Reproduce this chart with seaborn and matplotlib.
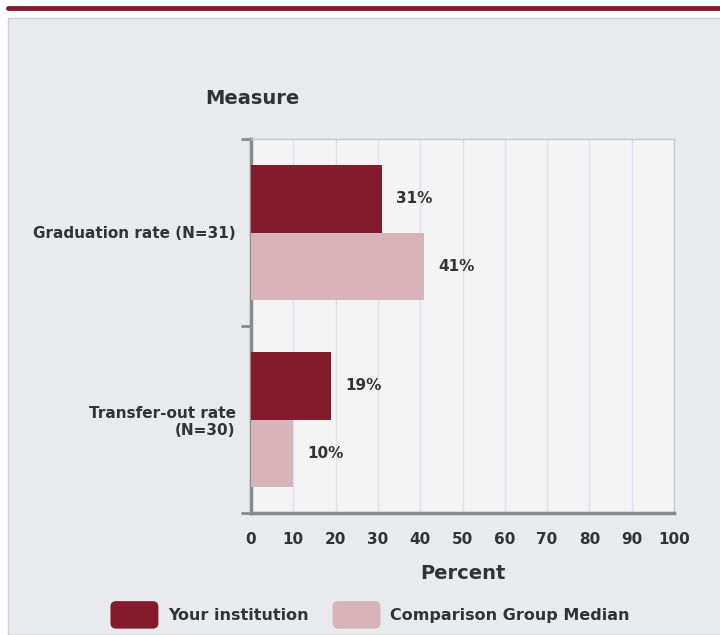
import matplotlib
matplotlib.use("Agg")
import matplotlib.pyplot as plt
import matplotlib.patches as mpatches
from matplotlib.legend_handler import HandlerPatch
import pandas as pd
import seaborn as sns

# values
measures = ["Graduation rate (N=31)", "Transfer-out rate\n(N=30)"]
your_institution = [31, 19]
comparison_median = [41, 10]
series_names = ["Your institution", "Comparison Group Median"]
x_ticks = [0, 10, 20, 30, 40, 50, 60, 70, 80, 90, 100]

maroon = "#841b2d"
pink = "#d8b3b9"
text_col = "#333333"

df = pd.DataFrame({
    "Measure": measures * 2,
    "Percent": your_institution + comparison_median,
    "Series": [series_names[0]] * 2 + [series_names[1]] * 2,
})

sns.set_theme(style="white")
plt.rcParams["font.family"] = ["Liberation Sans Narrow", "DejaVu Sans"]
plt.rcParams["font.weight"] = "bold"


class RoundedHandler(HandlerPatch):
    # legend swatch with rounded corners, like the reference
    def create_artists(self, legend, orig_handle, xdescent, ydescent, width, height, fontsize, trans):
        p = mpatches.FancyBboxPatch((-xdescent, -ydescent - 4), width, height + 8,
                                    boxstyle="round,pad=0,rounding_size=4",
                                    facecolor=orig_handle.get_facecolor(), edgecolor="none",
                                    transform=trans)
        return [p]


fig = plt.figure(figsize=(7.2, 6.35), dpi=100)
fig.patch.set_facecolor("white")

# grey panel and the maroon rule on top
fig.patches.append(mpatches.Rectangle((8 / 720, 0), 1, 1 - 18 / 635, transform=fig.transFigure,
                                      facecolor="#e9eaee", edgecolor="#d0d0d0", lw=1, zorder=-2))
fig.add_artist(plt.Line2D([8 / 720, 1], [1 - 8 / 635, 1 - 8 / 635], transform=fig.transFigure,
                          color=maroon, lw=3.5))

ax = fig.add_axes([251 / 720, 122 / 635, 423 / 720, 374 / 635])
ax.set_facecolor("#f4f4f4")

sns.barplot(data=df, y="Measure", x="Percent", hue="Series", orient="h",
            palette=[maroon, pink], width=0.72, ax=ax, legend=False, saturation=1,
            edgecolor="none", linewidth=0, zorder=3)

ax.set_xlim(0, 100)
ax.set_ylim(1.5, -0.5)
ax.set_xticks(x_ticks)
ax.set_xticklabels([str(t) for t in x_ticks], fontsize=11, color=text_col, fontweight="bold")
ax.tick_params(axis="x", length=0, pad=14)
ax.grid(axis="x", color="#dde2ea", lw=1, zorder=0)
ax.set_axisbelow(True)

ax.set_yticks([0, 1])
ax.set_yticklabels(measures, fontsize=11, color=text_col, fontweight="bold")
ax.tick_params(axis="y", which="major", length=0, pad=11)
ax.set_yticks([-0.5, 0.5, 1.5], minor=True)
ax.tick_params(axis="y", which="minor", left=True, length=7, width=2, color="#8a8a8a",
               direction="out")

for s in ["top", "right"]:
    ax.spines[s].set_color("#c8c8c8")
    ax.spines[s].set_linewidth(1)
ax.spines["left"].set_color("#8a8a8a")
ax.spines["left"].set_linewidth(2.5)
ax.spines["bottom"].set_color("#8a8a8a")
ax.spines["bottom"].set_linewidth(2.5)

for cont in ax.containers:
    ax.bar_label(cont, labels=[f"{int(v)}%" for v in cont.datavalues], padding=10,
                 fontsize=11, color=text_col, fontweight="bold")

ax.set_xlabel("Percent", fontsize=14, color=text_col, fontweight="bold", labelpad=12)
ax.set_ylabel("")
fig.text(252 / 720, 1 - 98 / 635, "Measure", fontsize=14, color=text_col, fontweight="bold",
         ha="center", va="center")

handles = [mpatches.Patch(facecolor=c) for c in [maroon, pink]]
leg = fig.legend(handles, series_names, loc="center", bbox_to_anchor=(370 / 720, 1 - 615 / 635),
                 ncol=2, frameon=False, handlelength=3.0, handleheight=1.2, columnspacing=1.5,
                 handletextpad=0.6, prop={"size": 11.5, "weight": "bold"},
                 handler_map={mpatches.Patch: RoundedHandler()})
for t in leg.get_texts():
    t.set_color(text_col)

fig.savefig("out.png", dpi=100)
